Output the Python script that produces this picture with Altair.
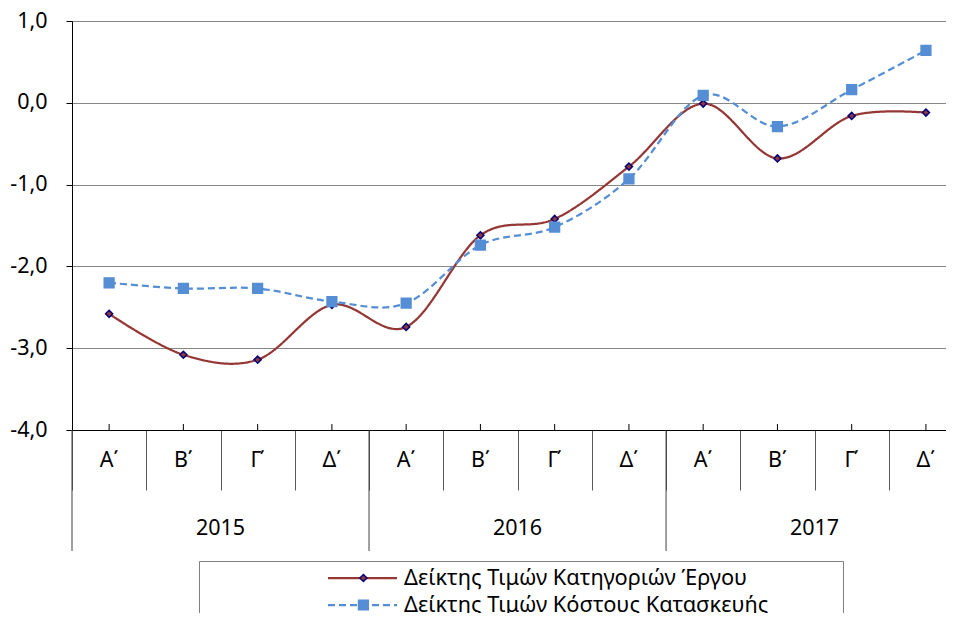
import altair as alt
import pandas as pd

# ---- data ----
quarters = ["Α΄", "Β΄", "Γ΄", "Δ΄"]
years = ["2015", "2016", "2017"]
series_names = ["Δείκτης Τιμών Κατηγοριών Έργου", "Δείκτης Τιμών Κόστους Κατασκευής"]
project_index = [-2.58, -3.08, -3.14, -2.47, -2.74, -1.62, -1.42, -0.78, -0.01, -0.68, -0.16, -0.12]
cost_index = [-2.20, -2.27, -2.27, -2.43, -2.45, -1.74, -1.52, -0.93, 0.09, -0.29, 0.16, 0.64]
y_ticks = [-4, -3, -2, -1, 0, 1]

W, H = 874, 409
X_VISIBLE = 11.77        # the reference crops the last category slightly on the right
FONT = "Noto Sans"
FS = 21.5
LFS = 21.8
RED, NAVY, BLUE = "#953735", "#000080", "#558ED5"

# ---- tables ----
cats = []
for yi, yr in enumerate(years):
    for qi, q in enumerate(quarters):
        i = yi * len(quarters) + qi
        cats.append({"pos": i + 0.5, "year": yr, "quarter": q})
cats = pd.DataFrame(cats)

long_rows = []
for name, vals in zip(series_names, [project_index, cost_index]):
    for p, v in zip(cats["pos"], vals):
        long_rows.append({"pos": p, "series": name, "m": name, "value": v})
long_df = pd.DataFrame(long_rows)

year_df = pd.DataFrame({
    "year": years,
    "mid": [cats.loc[cats.year == y, "pos"].mean() for y in years],
})
year_bounds = pd.DataFrame({"b": [k * len(quarters) for k in range(len(years) + 1)]})

xscale = alt.Scale(domain=[0, X_VISIBLE], nice=False, zero=False)
yscale = alt.Scale(domain=[-4, 1], nice=False, zero=False)

x_axis = alt.Axis(values=list(range(len(cats))), tickSize=60, labels=False, grid=False,
                  domainColor="black", tickColor="#595959", title=None, domainWidth=1)
y_axis = alt.Axis(values=y_ticks,
                  labelExpr="replace(replace(format(datum.value, '.1f'), '.', ','), '−', '-')",
                  tickSize=6, labelPadding=19, grid=True, gridColor="#868686",
                  domainColor="black", tickColor="black", title=None,
                  labelFontSize=FS, labelColor="black", labelFont=FONT)

LX, LY = 127, 540

line_legend = alt.Legend(title="\u00a0", titleOrient="right", titlePadding=68, titleFontSize=LFS,
                         orient="none", legendX=LX, legendY=LY, symbolType="stroke",
                         symbolSize=4761, symbolStrokeWidth=2.25, clipHeight=20, rowPadding=5,
                         padding=7, symbolOffset=120.5, labelOffset=5.5, strokeColor="#7f7f7f",
                         labelFont=FONT, labelFontSize=LFS, labelColor="black", labelLimit=0,
                         zindex=0)
marker_legend = alt.Legend(title=None, orient="none", legendX=LX, legendY=LY,
                           clipHeight=20, rowPadding=5, padding=7, symbolOffset=146.5,
                           symbolStrokeWidth=1.5, labelExpr="''", labelFont=FONT,
                           labelFontSize=LFS, labelLimit=0, zindex=1)

inner_ticks = alt.Chart(cats).mark_rule(color="black").encode(
    x=alt.X("pos:Q", scale=xscale, axis=x_axis),
    y=alt.value(H - 6), y2=alt.value(H),
)
year_rules = alt.Chart(year_bounds).mark_rule(color="#404040").encode(
    x=alt.X("b:Q", scale=xscale),
    y=alt.value(H), y2=alt.value(H + 121),
)
q_labels = alt.Chart(cats).mark_text(font=FONT, fontSize=FS, color="black").encode(
    x=alt.X("pos:Q", scale=xscale),
    y=alt.value(H + 31),
    text="quarter:N",
)
y_labels = alt.Chart(year_df).mark_text(font=FONT, fontSize=FS, color="black").encode(
    x=alt.X("mid:Q", scale=xscale),
    y=alt.value(H + 99),
    text="year:N",
)
lines = alt.Chart(long_df).mark_line(interpolate="cardinal", strokeWidth=2.25).encode(
    x=alt.X("pos:Q", scale=xscale),
    y=alt.Y("value:Q", scale=yscale, axis=y_axis),
    stroke=alt.Stroke("series:N", scale=alt.Scale(domain=series_names, range=[RED, BLUE]),
                      legend=line_legend),
    strokeDash=alt.StrokeDash("series:N", scale=alt.Scale(domain=series_names, range=[[1, 0], [7, 4]]),
                              legend=line_legend),
)
# marker scales take their domain from the data field "m", so their legend stays separate
points = alt.Chart(long_df).mark_point(filled=True, opacity=1, strokeWidth=1.5).encode(
    x=alt.X("pos:Q", scale=xscale),
    y=alt.Y("value:Q", scale=yscale),
    shape=alt.Shape("m:N", scale=alt.Scale(range=["diamond", "square"]), legend=marker_legend),
    fill=alt.Fill("m:N", scale=alt.Scale(range=[RED, BLUE]), legend=marker_legend),
    stroke=alt.Stroke("m:N", scale=alt.Scale(range=[NAVY, BLUE]), legend=marker_legend),
    size=alt.Size("m:N", scale=alt.Scale(type="ordinal", range=[50, 95]), legend=marker_legend),
)

chart = alt.layer(inner_ticks, year_rules, q_labels, y_labels, lines, points).resolve_scale(
    stroke="independent", strokeDash="independent", shape="independent",
    fill="independent", size="independent",
).properties(
    width=W, height=H,
    autosize=alt.AutoSizeParams(type="none"),
    padding={"left": 64, "top": 13, "right": 0, "bottom": 183},
    background="white",
).configure_view(stroke=None).configure(font=FONT)

chart.save("out.html", embed_options={"renderer": "svg", "actions": False})
